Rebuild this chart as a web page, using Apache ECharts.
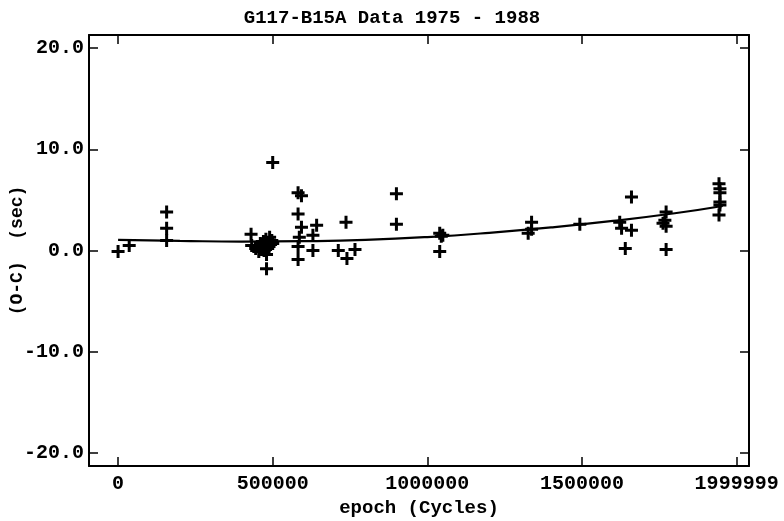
<!DOCTYPE html>
<html>
<head>
<meta charset="utf-8">
<script src="https://cdn.jsdelivr.net/npm/echarts@6/dist/echarts.min.js"></script>
<style>html,body{margin:0;padding:0;background:#fff}#c{width:784px;height:521px}</style>
</head>
<body>
<div id="c"></div>
<script>
// Observations: epoch (cycles) and O-C (sec)
const obsEpoch = [0,36000,157000,157000,157000,430000,432000,445000,450000,455000,460000,465000,470000,472000,475000,478000,480000,480000,485000,488000,490000,493000,497000,500000,500000,582000,593000,582000,593000,586000,582000,582000,642000,630000,630000,712000,737000,740000,766000,900000,900000,1040000,1045000,1050000,1040000,1326000,1337000,1337000,1493000,1622000,1628000,1640000,1660000,1660000,1762000,1768000,1772000,1772000,1772000,1943000,1946000,1946000,1946000,1946000,1943000];
const obsOC    = [-0.1,0.5,3.8,2.2,1.0,1.6,0.5,0.2,0.4,-0.1,0.7,0.3,0.9,0.0,0.6,1.1,-0.4,-1.8,0.8,0.4,1.3,0.6,1.0,8.7,0.7,5.7,5.4,3.6,2.3,1.3,0.4,-0.9,2.5,1.5,0.0,0.0,2.8,-0.8,0.1,5.6,2.6,1.7,1.4,1.5,-0.1,1.7,2.1,2.8,2.6,2.8,2.2,0.2,2.0,5.3,2.7,3.0,3.8,2.4,0.1,6.6,6.1,5.7,4.8,4.5,3.5];
// Fitted curve
const fitEpoch = [0,200000,400000,600000,800000,1000000,1200000,1400000,1600000,1800000,1955000];
const fitOC    = [1.05,0.95,0.88,0.92,1.05,1.33,1.75,2.28,2.92,3.68,4.4];
// Tick labels
const xTicks = [0,500000,1000000,1500000,2000000];
const xTickLabels = ['0','500000','1000000','1500000','1999999'];
const yTicks = [-20,-10,0,10,20];
const yTickLabels = ['-20.0','-10.0','0.0','10.0','20.0'];

const FONT = '"Liberation Mono", "DejaVu Sans Mono", monospace';
const chart = echarts.init(document.getElementById('c'));
const baseX = {
  type:'value', min:-94000, max:2040000,
  axisLine:{show:true,onZero:false,lineStyle:{color:'#000',width:2}},
  axisTick:{show:true,inside:true,length:9,customValues:xTicks,lineStyle:{color:'#000',width:1.5}},
  splitLine:{show:false}
};
const baseY = {
  type:'value', min:-21.3, max:21.3,
  axisLine:{show:true,onZero:false,lineStyle:{color:'#000',width:2}},
  axisTick:{show:true,inside:true,length:9,customValues:yTicks,lineStyle:{color:'#000',width:1.5}},
  splitLine:{show:false}
};
chart.setOption({
  animation:false,
  backgroundColor:'#fff',
  title:{text:'G117-B15A Data 1975 - 1988',left:'center',top:4,
    textStyle:{fontFamily:FONT,fontWeight:'bold',fontSize:19,color:'#000'}},
  grid:{left:89,right:35,top:35,bottom:55,containLabel:false,outerBoundsMode:'none'},
  xAxis:[
    Object.assign({},baseX,{position:'bottom',
      name:'epoch (Cycles)',nameLocation:'middle',nameGap:33,nameMoveOverlap:false,
      nameTextStyle:{fontFamily:FONT,fontWeight:'bold',fontSize:19,color:'#000'},
      axisLabel:{show:true,customValues:xTicks,margin:8,fontFamily:FONT,fontWeight:'bold',fontSize:20,color:'#000',
        formatter:v=>xTickLabels[xTicks.indexOf(v)]}}),
    Object.assign({},baseX,{position:'top',axisLabel:{show:false}})
  ],
  yAxis:[
    Object.assign({},baseY,{position:'left',
      name:'(O-C)  (sec)',nameLocation:'middle',nameGap:63,nameRotate:90,nameMoveOverlap:false,
      nameTextStyle:{fontFamily:FONT,fontWeight:'bold',fontSize:18,color:'#000'},
      axisLabel:{show:true,customValues:yTicks,margin:5,fontFamily:FONT,fontWeight:'bold',fontSize:20,color:'#000',
        formatter:v=>yTickLabels[yTicks.indexOf(v)]}}),
    Object.assign({},baseY,{position:'right',axisLabel:{show:false}})
  ],
  series:[
    {type:'line',data:fitEpoch.map((e,i)=>[e,fitOC[i]]),smooth:true,symbol:'none',
      lineStyle:{color:'#000',width:2.2},z:2},
    {type:'scatter',data:obsEpoch.map((e,i)=>[e,obsOC[i]]),
      symbol:'path://M5,0H8V5H13V8H8V13H5V8H0V5H5Z',symbolSize:13,
      itemStyle:{color:'#000',opacity:1},z:3}
  ]
});
</script>
</body>
</html>
